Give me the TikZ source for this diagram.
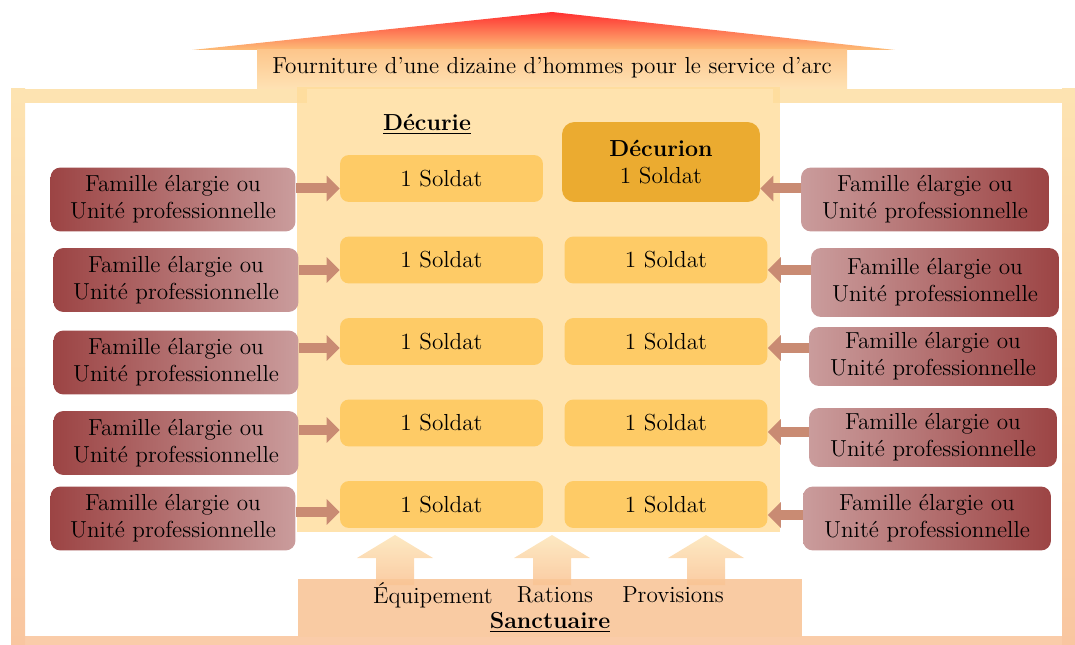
\documentclass[tikz,border=0pt]{standalone}
\usepackage{tikz}
\usetikzlibrary{positioning}
\usetikzlibrary{arrows.meta}
\definecolor{soldatc}{HTML}{FECB66}
\definecolor{decurionc}{HTML}{EBAB30}
\definecolor{panelc}{HTML}{FFDC9A}
\definecolor{famfonce}{HTML}{9C4444}
\definecolor{famclair}{HTML}{CA9C9C}
\definecolor{flechec}{HTML}{C98B73}
\definecolor{sanctc}{HTML}{F9CBA3}
\definecolor{bandc}{HTML}{FDE3B1}
\definecolor{bandbas}{HTML}{F9C6A0}
\definecolor{vertc}{HTML}{E2F592}
\definecolor{toitrouge}{HTML}{FF3030}
\definecolor{toitorange}{HTML}{FDBE78}
\definecolor{titrehaut}{HTML}{FDC68C}
\definecolor{titrebas}{HTML}{FEE2B4}
\definecolor{monteehaut}{HTML}{FDE5B8}
\definecolor{monteebas}{HTML}{F9C393}
\tikzset{
    soldat/.style = {rectangle, rounded corners=0.18cm, fill=soldatc, minimum width=4.06cm, minimum height=0.94cm, align=center},
    decurion/.style = {rectangle, rounded corners=0.25cm, fill=decurionc, minimum width=3.96cm, minimum height=1.6cm, align=center},
    famg/.style = {rectangle, rounded corners=0.2cm, left color=famfonce, right color=famclair, minimum width=4.9cm, minimum height=1.28cm, align=center, inner sep=1pt},
    famd/.style = {rectangle, rounded corners=0.2cm, left color=famclair, right color=famfonce, minimum width=4.96cm, minimum height=1.28cm, align=center, inner sep=1pt},
    fleche/.style = {-{Triangle[length=0.26cm,width=0.5cm]}, line width=0.2cm, draw=flechec},
    montee/.style = {top color=monteehaut, bottom color=monteebas, opacity=0.85},
    bande/.style = {fill=bandc},
    every picture/.style={font issue=\fontsize{13.2}{15.4}},
    font issue/.style={execute at begin picture={#1\selectfont}}
}

\begin{document}
\begin{tikzpicture}[x=0.02cm, y=-0.02cm]
\useasboundingbox (0,0) rectangle (1075,645);
% frame
\shade[top color=bandc, middle color=vertc, bottom color=bandbas] (11,89) rectangle (25,645);
\shade[top color=bandc, middle color=vertc, bottom color=bandbas] (1062,89) rectangle (1075,645);
\fill[bande] (11,89) rectangle (307,103);
\fill[bande] (773,89) rectangle (1075,103);
\fill[bandbas, opacity=0.9] (11,636) rectangle (1075,645);
% roof
\shade[top color=toitrouge, bottom color=toitorange] (552,12) -- (895,50) -- (192,50) -- cycle;
\shade[top color=titrehaut, bottom color=titrebas] (257,50) rectangle (847,89);
\node at (552,68) (titre) {Fourniture d’une dizaine d’hommes pour le service d’arc};
% decurie
\fill[panelc, opacity=0.8] (297,87) rectangle (780,532);
\node at (427,124) (decurie) {\underline{\textbf{Décurie}}};
\node[decurion] at (661,162) (dec) {\textbf{Décurion}\\1 Soldat};
\node[soldat] at (441.5,178.5) (sl1) {1 Soldat};
\node[soldat] at (441.5,260) (sl2) {1 Soldat};
\node[soldat] at (441.5,341.5) (sl3) {1 Soldat};
\node[soldat] at (441.5,423) (sl4) {1 Soldat};
\node[soldat] at (441.5,504.5) (sl5) {1 Soldat};
\node[soldat] at (666,260) (sr2) {1 Soldat};
\node[soldat] at (666,341.5) (sr3) {1 Soldat};
\node[soldat] at (666,423) (sr4) {1 Soldat};
\node[soldat] at (666,504.5) (sr5) {1 Soldat};
% familles
\node[famg] at (173,199.5) (fl1) {Famille élargie ou\\Unité professionnelle};
\node[famg] at (176,280) (fl2) {Famille élargie ou\\Unité professionnelle};
\node[famg] at (176,362.5) (fl3) {Famille élargie ou\\Unité professionnelle};
\node[famg] at (176,443) (fl4) {Famille élargie ou\\Unité professionnelle};
\node[famg] at (173,518.5) (fl5) {Famille élargie ou\\Unité professionnelle};
\node[famd] at (925,199.5) (fr1) {Famille élargie ou\\Unité professionnelle};
\node[famd, minimum height=1.38cm] at (935,282.5) (fr2) {Famille élargie ou\\Unité professionnelle};
\node[famd, minimum height=1.18cm] at (933,356.5) (fr3) {Famille élargie ou\\Unité professionnelle};
\node[famd, minimum height=1.18cm] at (933,437.5) (fr4) {Famille élargie ou\\Unité professionnelle};
\node[famd] at (927,518.5) (fr5) {Famille élargie ou\\Unité professionnelle};
%
\draw[fleche] ([yshift=-0.2cm]sl1.west -| fl1.east) -- ([yshift=-0.2cm]sl1.west);
\draw[fleche] ([yshift=-0.2cm]sl2.west -| fl2.east) -- ([yshift=-0.2cm]sl2.west);
\draw[fleche] ([yshift=-0.13cm]sl3.west -| fl3.east) -- ([yshift=-0.13cm]sl3.west);
\draw[fleche] ([yshift=-0.14cm]sl4.west -| fl4.east) -- ([yshift=-0.14cm]sl4.west);
\draw[fleche] ([yshift=-0.15cm]sl5.west -| fl5.east) -- ([yshift=-0.15cm]sl5.west);
\draw[fleche] ([yshift=-0.2cm]sl1.west -| fr1.west) -- ([yshift=-0.2cm]sl1.west -| dec.east);
\draw[fleche] ([yshift=-0.2cm]sr2.east -| fr2.west) -- ([yshift=-0.2cm]sr2.east);
\draw[fleche] ([yshift=-0.13cm]sr3.east -| fr3.west) -- ([yshift=-0.13cm]sr3.east);
\draw[fleche] ([yshift=-0.18cm]sr4.east -| fr4.west) -- ([yshift=-0.18cm]sr4.east);
\draw[fleche] ([yshift=-0.21cm]sr5.east -| fr5.west) -- ([yshift=-0.21cm]sr5.east);
% sanctuaire
\fill[sanctc] (298,579) rectangle (802,637);
\shade[montee] (376,585) -- (376,558) -- (357,558) -- (395,535) -- (433,558) -- (414,558) -- (414,585) -- cycle;
\shade[montee] (533,585) -- (533,558) -- (514,558) -- (552,535) -- (590,558) -- (571,558) -- (571,585) -- cycle;
\shade[montee] (687,585) -- (687,558) -- (668,558) -- (706,535) -- (744,558) -- (725,558) -- (725,585) -- cycle;
\node at (433,595) (equip) {Équipement};
\node at (555,595) (rations) {Rations};
\node at (673,595) (provis) {Provisions};
\node at (550,622) (sanct) {\underline{\textbf{Sanctuaire}}};
\end{tikzpicture}
\end{document}
